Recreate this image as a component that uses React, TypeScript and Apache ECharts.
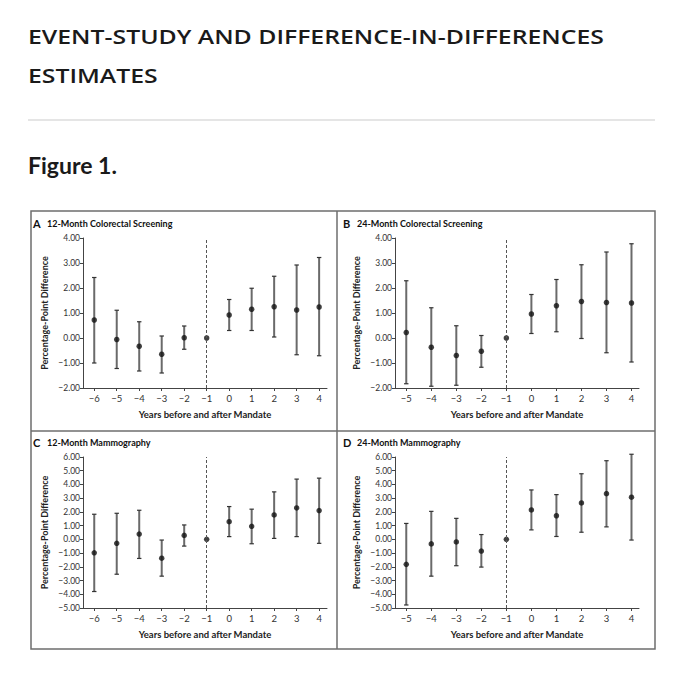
import React, { useEffect, useRef } from "react";
import * as echarts from "echarts";

// ---- Data ----
const yearsA = [-6, -5, -4, -3, -2, -1, 0, 1, 2, 3, 4];
const estA = [0.72, -0.06, -0.33, -0.65, 0.01, 0, 0.92, 1.15, 1.25, 1.12, 1.24];
const loA = [-1.0, -1.22, -1.32, -1.4, -0.45, null, 0.3, 0.3, 0.04, -0.67, -0.71];
const hiA = [2.42, 1.11, 0.65, 0.08, 0.48, null, 1.54, 1.99, 2.47, 2.92, 3.22];

const yearsB = [-5, -4, -3, -2, -1, 0, 1, 2, 3, 4];
const estB = [0.22, -0.37, -0.7, -0.53, 0, 0.96, 1.29, 1.46, 1.42, 1.4];
const loB = [-1.83, -1.93, -1.89, -1.17, null, 0.18, 0.25, -0.02, -0.59, -0.96];
const hiB = [2.29, 1.21, 0.49, 0.1, null, 1.74, 2.34, 2.93, 3.44, 3.77];

const yearsC = [-6, -5, -4, -3, -2, -1, 0, 1, 2, 3, 4];
const estC = [-0.98, -0.29, 0.39, -1.37, 0.29, 0, 1.29, 0.95, 1.78, 2.29, 2.1];
const loC = [-3.8, -2.54, -1.39, -2.68, -0.49, null, 0.2, -0.32, 0.07, 0.2, -0.29];
const hiC = [1.83, 1.9, 2.12, -0.05, 1.05, null, 2.39, 2.2, 3.46, 4.39, 4.46];

const yearsD = [-5, -4, -3, -2, -1, 0, 1, 2, 3, 4];
const estD = [-1.82, -0.33, -0.19, -0.85, 0, 2.14, 1.72, 2.65, 3.33, 3.07];
const loD = [-4.78, -2.68, -1.92, -2.02, null, 0.69, 0.21, 0.52, 0.91, -0.05];
const hiD = [1.16, 2.04, 1.53, 0.35, null, 3.6, 3.26, 4.78, 5.73, 6.2];

const panelLetters = ["A", "B", "C", "D"];
const panelTitles = [
  "12-Month Colorectal Screening",
  "24-Month Colorectal Screening",
  "12-Month Mammography",
  "24-Month Mammography",
];
const xAxisTitle = "Years before and after Mandate";
const yAxisTitle = "Percentage-Point Difference";
const mandateYear = -1;

const FONT = "Lato, 'Open Sans', sans-serif";
const HEAD_FONT = "'Open Sans', 'DejaVu Sans', sans-serif";

const fmtY = (v: number) => (v < 0 ? "\u2212" : "") + Math.abs(v).toFixed(2);
const fmtX = (v: number) => (v < 0 ? "\u2212" + Math.abs(v) : String(v));

export default function App() {
  const ref = useRef<HTMLDivElement>(null);

  useEffect(() => {
    if (!ref.current) return;
    const chart = echarts.init(ref.current, undefined, { renderer: "svg" });

    const panels = [
      { years: yearsA, est: estA, lo: loA, hi: hiA, grid: { left: 83, top: 238, width: 244, height: 150 }, xmin: -6.5, xmax: 4.35, ymin: -2, ymax: 4 },
      { years: yearsB, est: estB, lo: loB, hi: hiB, grid: { left: 395, top: 238, width: 244, height: 150 }, xmin: -5.45, xmax: 4.3, ymin: -2, ymax: 4 },
      { years: yearsC, est: estC, lo: loC, hi: hiC, grid: { left: 83, top: 457, width: 244, height: 151 }, xmin: -6.5, xmax: 4.35, ymin: -5, ymax: 6 },
      { years: yearsD, est: estD, lo: loD, hi: hiD, grid: { left: 395, top: 457, width: 244, height: 151 }, xmin: -5.45, xmax: 4.3, ymin: -5, ymax: 6 },
    ];

    const axisColor = "#444";
    const grids: any[] = [];
    const xAxes: any[] = [];
    const yAxes: any[] = [];
    const series: any[] = [];

    panels.forEach((p, i) => {
      grids.push({ ...p.grid, containLabel: false });
      xAxes.push({
        type: "value",
        gridIndex: i,
        min: p.xmin,
        max: p.xmax,
        splitLine: { show: false },
        axisLine: { show: true, onZero: false, lineStyle: { color: axisColor, width: 1 } },
        axisTick: { show: true, length: 3, customValues: p.years, lineStyle: { color: axisColor } },
        axisLabel: {
          customValues: p.years,
          formatter: fmtX,
          fontSize: 9.5,
          color: "#333",
          fontFamily: FONT,
          margin: 5,
        },
        name: xAxisTitle,
        nameLocation: "middle",
        nameGap: 21,
        nameTextStyle: { fontSize: 9.5, fontWeight: "bold", color: "#222", fontFamily: FONT },
      });
      yAxes.push({
        type: "value",
        gridIndex: i,
        min: p.ymin,
        max: p.ymax,
        interval: 1,
        splitLine: { show: false },
        axisLine: { show: true, onZero: false, lineStyle: { color: axisColor, width: 1 } },
        axisTick: { show: true, length: 3, lineStyle: { color: axisColor } },
        axisLabel: { formatter: fmtY, fontSize: 8.5, color: "#333", fontFamily: FONT, margin: 3 },
        name: yAxisTitle,
        nameLocation: "middle",
        nameGap: 34,
        nameTextStyle: { fontSize: 9, fontWeight: "bold", color: "#222", fontFamily: FONT },
      });

      const barData: any[] = [];
      p.years.forEach((yr, k) => {
        if (p.lo[k] != null && p.hi[k] != null) barData.push([yr, p.lo[k], p.hi[k]]);
      });

      series.push({
        type: "custom",
        xAxisIndex: i,
        yAxisIndex: i,
        silent: true,
        encode: { x: 0, y: [1, 2] },
        data: barData,
        renderItem: (params: any, api: any) => {
          const x = api.value(0);
          const top = api.coord([x, api.value(2)]);
          const bot = api.coord([x, api.value(1)]);
          const c = 2.2;
          return {
            type: "group",
            children: [
              { type: "line", shape: { x1: top[0], y1: top[1], x2: bot[0], y2: bot[1] }, style: { stroke: "#6a6a6a", lineWidth: 2 } },
              { type: "line", shape: { x1: top[0] - c, y1: top[1], x2: top[0] + c, y2: top[1] }, style: { stroke: "#333", lineWidth: 1.2 } },
              { type: "line", shape: { x1: bot[0] - c, y1: bot[1], x2: bot[0] + c, y2: bot[1] }, style: { stroke: "#333", lineWidth: 1.2 } },
            ],
          };
        },
        z: 2,
      });

      series.push({
        type: "scatter",
        xAxisIndex: i,
        yAxisIndex: i,
        symbol: "circle",
        symbolSize: 5.5,
        itemStyle: { color: "#111" },
        data: p.years.map((yr, k) => [yr, p.est[k]]),
        z: 3,
        markLine: {
          silent: true,
          symbol: ["none", "none"],
          label: { show: false },
          lineStyle: { type: [3, 2], color: "#555", width: 1 },
          data: [{ xAxis: mandateYear }],
        },
      });
    });

    const letterPos = [
      [33, 223],
      [343, 223],
      [33, 442],
      [343, 442],
    ];

    const graphic: any[] = [
      {
        type: "text",
        x: 28,
        y: 36,
        scaleX: 1.24,
        style: {
          text: "EVENT-STUDY AND DIFFERENCE-IN-DIFFERENCES",
          fontSize: 20,
          fontWeight: 600,
          fontFamily: HEAD_FONT,
          fill: "#1a1a1a",
          verticalAlign: "middle",
        },
      },
      {
        type: "text",
        x: 28,
        y: 75,
        scaleX: 1.24,
        style: {
          text: "ESTIMATES",
          fontSize: 20,
          fontWeight: 600,
          fontFamily: HEAD_FONT,
          fill: "#1a1a1a",
          verticalAlign: "middle",
        },
      },
      {
        type: "line",
        shape: { x1: 28, y1: 120, x2: 655, y2: 120 },
        style: { stroke: "#dcdcdc", lineWidth: 1.5 },
      },
      {
        type: "text",
        x: 28,
        y: 165,
        style: { text: "Figure 1.", fontSize: 23, fontWeight: "bold", fontFamily: FONT, fill: "#1a1a1a", verticalAlign: "middle" },
      },
      {
        type: "rect",
        shape: { x: 31, y: 211, width: 624, height: 438 },
        style: { fill: "none", stroke: "#6e6e6e", lineWidth: 1.5 },
      },
      {
        type: "line",
        shape: { x1: 337, y1: 211, x2: 337, y2: 649 },
        style: { stroke: "#6e6e6e", lineWidth: 1.5 },
      },
      {
        type: "line",
        shape: { x1: 31, y1: 431, x2: 655, y2: 431 },
        style: { stroke: "#6e6e6e", lineWidth: 1.5 },
      },
    ];

    panelLetters.forEach((L, i) => {
      const [lx, ly] = letterPos[i];
      graphic.push({
        type: "text",
        x: lx,
        y: ly,
        style: { text: L, fontSize: 11, fontWeight: "bold", fontFamily: FONT, fill: "#111", verticalAlign: "middle" },
      });
      graphic.push({
        type: "text",
        x: lx + 14,
        y: ly,
        style: { text: panelTitles[i], fontSize: 9, fontWeight: "bold", fontFamily: FONT, fill: "#111", verticalAlign: "middle" },
      });
    });

    chart.setOption({
      animation: false,
      backgroundColor: "#fff",
      grid: grids,
      xAxis: xAxes,
      yAxis: yAxes,
      series,
      graphic,
    });

    return () => chart.dispose();
  }, []);

  return (
    <div
      ref={ref}
      style={{ position: "absolute", left: 0, top: 0, width: 680, height: 680 }}
    />
  );
}
